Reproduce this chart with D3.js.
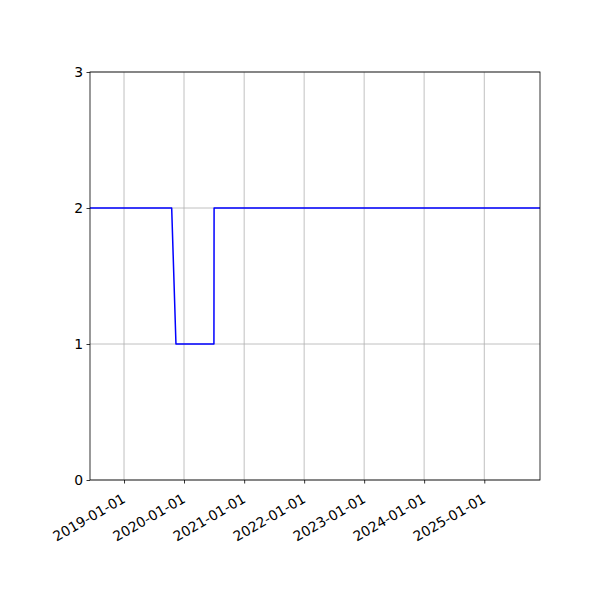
<!DOCTYPE html>
<html>
<head>
<meta charset="utf-8">
<script src="https://cdn.jsdelivr.net/npm/d3@7"></script>
<style>
  body { margin: 0; background: #fff; }
  .axis text { font-family: "DejaVu Sans", sans-serif; font-size: 13.9px; fill: #000; }
</style>
</head>
<body>
<div id="chart"></div>
<script>
// data
var dates = ["2018-06-08", "2019-10-18", "2019-11-13", "2020-07-01", "2020-07-02", "2025-12-06"];
var values = [2, 2, 1, 1, 2, 2];
var yTicks = [0, 1, 2, 3];
var xTickYears = [2019, 2020, 2021, 2022, 2023, 2024, 2025];

var w = 600, h = 600;
var margin = { left: 90, right: 540, top: 72, bottom: 480 };

var parseDate = d3.timeParse("%Y-%m-%d");
var formatDate = d3.timeFormat("%Y-%m-%d");

var data = dates.map(function (d, i) {
    return { date: parseDate(d), value: values[i] };
});
var xTicks = xTickYears.map(function (y) { return new Date(y, 0, 1); });

var svg = d3.select("#chart")
    .append("svg")
    .attr("width", w)
    .attr("height", h);

var xScale = d3.scaleTime()
    .domain([data[0].date, data[data.length - 1].date])
    .range([margin.left, margin.right]);

var yScale = d3.scaleLinear()
    .domain([0, 3])
    .range([margin.bottom, margin.top]);

// grid
svg.append("g")
    .selectAll("line")
    .data(xTicks)
    .enter()
    .append("line")
    .attr("x1", function (d) { return xScale(d); })
    .attr("x2", function (d) { return xScale(d); })
    .attr("y1", margin.top)
    .attr("y2", margin.bottom)
    .attr("stroke", "#b0b0b0")
    .attr("stroke-width", 0.8);

svg.append("g")
    .selectAll("line")
    .data(yTicks)
    .enter()
    .append("line")
    .attr("x1", margin.left)
    .attr("x2", margin.right)
    .attr("y1", function (d) { return yScale(d); })
    .attr("y2", function (d) { return yScale(d); })
    .attr("stroke", "#b0b0b0")
    .attr("stroke-width", 0.8);

// line
var line = d3.line()
    .x(function (d) { return xScale(d.date); })
    .y(function (d) { return yScale(d.value); });

svg.append("path")
    .datum(data)
    .attr("d", line)
    .attr("fill", "none")
    .attr("stroke", "#0000ff")
    .attr("stroke-width", 1.5)
    .attr("stroke-linejoin", "round");

// frame
svg.append("rect")
    .attr("x", margin.left)
    .attr("y", margin.top)
    .attr("width", margin.right - margin.left)
    .attr("height", margin.bottom - margin.top)
    .attr("fill", "none")
    .attr("stroke", "#000")
    .attr("stroke-width", 0.8);

// axes
var xAxis = d3.axisBottom(xScale)
    .tickValues(xTicks)
    .tickFormat(formatDate)
    .tickSize(3.5)
    .tickPadding(3.5);

var gx = svg.append("g")
    .attr("class", "axis")
    .attr("transform", "translate(0," + margin.bottom + ")")
    .call(xAxis);
gx.select(".domain").remove();
gx.selectAll(".tick line").attr("stroke", "#000").attr("stroke-width", 0.8);
gx.selectAll(".tick text")
    .attr("text-anchor", "end")
    .attr("dy", null)
    .attr("y", 0)
    .attr("transform", "translate(0,18) rotate(-30)")
    .attr("dominant-baseline", "middle");

var yAxis = d3.axisLeft(yScale)
    .tickValues(yTicks)
    .tickFormat(d3.format("d"))
    .tickSize(3.5)
    .tickPadding(3.5);

var gy = svg.append("g")
    .attr("class", "axis")
    .attr("transform", "translate(" + margin.left + ",0)")
    .call(yAxis);
gy.select(".domain").remove();
gy.selectAll(".tick line").attr("stroke", "#000").attr("stroke-width", 0.8);
</script>
</body>
</html>
